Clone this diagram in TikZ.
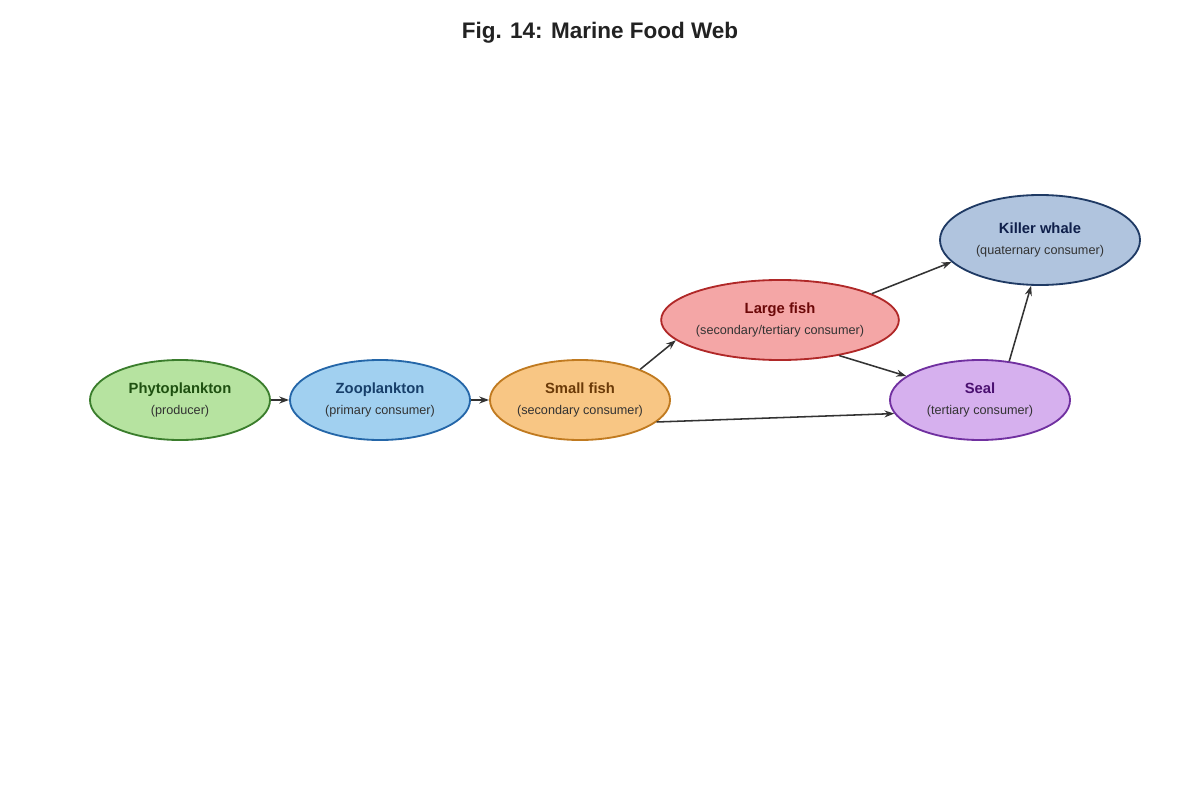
\documentclass[tikz,border=0pt]{standalone}
\usepackage{fontspec}
\setmainfont{Liberation Sans}
\usetikzlibrary{shapes.geometric,arrows.meta}
\definecolor{phF}{HTML}{B6E3A0}\definecolor{phD}{HTML}{3A7D2C}\definecolor{phT}{HTML}{1E5010}
\definecolor{zoF}{HTML}{A1D0F0}\definecolor{zoD}{HTML}{2466A8}\definecolor{zoT}{HTML}{173F6A}
\definecolor{sfF}{HTML}{F8C684}\definecolor{sfD}{HTML}{C07A20}\definecolor{sfT}{HTML}{6B3A08}
\definecolor{lfF}{HTML}{F4A6A6}\definecolor{lfD}{HTML}{B02828}\definecolor{lfT}{HTML}{6B0808}
\definecolor{seF}{HTML}{D6B0EE}\definecolor{seD}{HTML}{7030A0}\definecolor{seT}{HTML}{4A1070}
\definecolor{kwF}{HTML}{B0C4DE}\definecolor{kwD}{HTML}{1F3A64}\definecolor{kwT}{HTML}{0F1F4A}
\definecolor{sub}{HTML}{333333}\definecolor{arr}{HTML}{333333}
\tikzset{
  sp/.style={ellipse,draw=#1D,fill=#1F,line width=1.3pt,minimum width=4.5cm,minimum height=2cm,inner sep=0pt,align=center,text=#1T},
  ar/.style={-{Stealth[length=7pt,width=5pt]},draw=arr,line width=1.1pt}
}
\newcommand{\lab}[2]{{\fontsize{10.5}{13}\selectfont\bfseries #1}\\[3pt]{\fontsize{9}{11}\selectfont\color{sub}#2}}
\begin{document}
\begin{tikzpicture}[x=0.025cm,y=-0.025cm]
\useasboundingbox (0,0) rectangle (1200,800);
\node (title) at (600,33) {\fontsize{16}{19}\selectfont\bfseries\color[HTML]{222222}Fig. 14: Marine Food Web};
\node[sp=ph] (ph) at (180,400) {\lab{Phytoplankton}{(producer)}};
\node[sp=zo] (zo) at (380,400) {\lab{Zooplankton}{(primary consumer)}};
\node[sp=sf] (sf) at (580,400) {\lab{Small fish}{(secondary consumer)}};
\node[sp=lf] (lf) at (780,320) {\lab{Large fish}{(secondary/tertiary consumer)}};
\node[sp=se] (se) at (980,400) {\lab{Seal}{(tertiary consumer)}};
\node[sp=kw,minimum width=5cm,minimum height=2.25cm] (kw) at (1040,240) {\lab{Killer whale}{(quaternary consumer)}};
\draw[ar] (ph.east) -- (zo.west);
\draw[ar] (zo.east) -- (sf.west);
\draw[ar] (sf.27) -- (lf.191);
\draw[ar] (lf.16) -- (kw.194);
\draw[ar] (lf.329) -- (se.162);
\draw[ar] (sf.344) -- (se.189);
\draw[ar] (se.53) -- (kw.259);
\end{tikzpicture}
\end{document}
